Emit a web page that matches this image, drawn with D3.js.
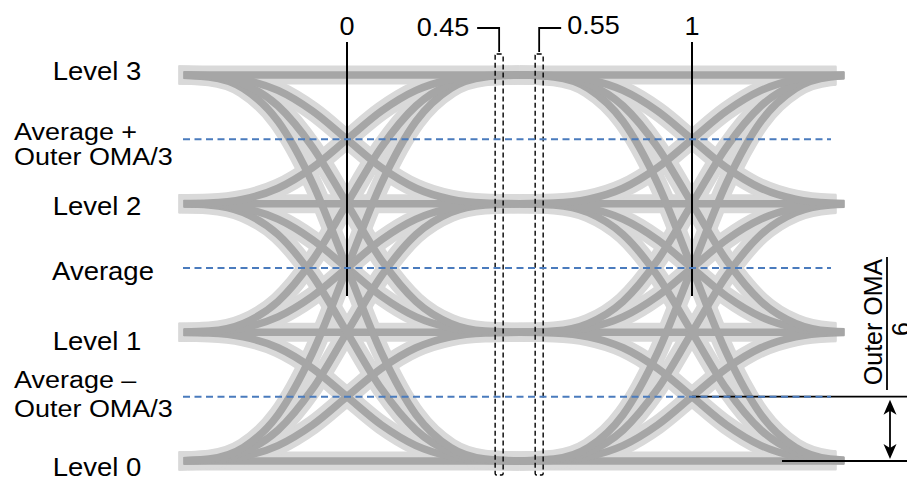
<!DOCTYPE html>
<html><head><meta charset="utf-8">
<script src="https://cdn.jsdelivr.net/npm/d3@7"></script>
<style>
html,body{margin:0;padding:0;background:#fff;overflow:hidden}
text{font-family:"Liberation Sans",Arial,sans-serif;fill:#000}
</style></head>
<body><svg id="chart" width="907" height="477"></svg>
<script>
// ---- data ----
const levelValues = [0, 1, 2, 3];
const levelLabels = ["Level 0", "Level 1", "Level 2", "Level 3"];
const thresholdValues = [0.5, 1.5, 2.5];
const thresholdLabels = [["Average \u2013", "Outer OMA/3"], ["Average"], ["Average +", "Outer OMA/3"]];
const crossingTimes = [0, 1];
const crossingLabels = ["0", "1"];
const windowTimes = [0.441, 0.557];
const windowLabels = ["0.45", "0.55"];
const timeDomain = [-0.488, 1.43];
// transition profile (fraction of the step completed vs time offset from crossing, UI)
const profileOffsets = [-0.5, -0.4, -0.3, -0.2, -0.1, 0, 0.1, 0.2, 0.3, 0.4, 0.5];
const profileFractions = [0, 0.005, 0.035, 0.12, 0.28, 0.5, 0.72, 0.88, 0.965, 0.995, 1];
const omaLabel = ["Outer OMA", "6"];

// ---- scales ----
const svg = d3.select("#chart");
const x = d3.scaleLinear().domain([0, 1]).range([347, 692]);
const y = d3.scaleLinear().domain([0, 3]).range([461, 75]);

const line = d3.line().x(d => x(d[0])).y(d => y(d[1])).curve(d3.curveMonotoneX);

const traces = [];
crossingTimes.forEach(c => {
  levelValues.forEach(a => {
    levelValues.forEach(b => {
      traces.push(profileOffsets.map((u, i) => [c + u, a + (b - a) * profileFractions[i]]));
    });
  });
});

const defs = svg.append("defs");
defs.append("clipPath").attr("id", "clipLight").append("rect")
  .attr("x", x(timeDomain[0])).attr("y", 0).attr("width", x(timeDomain[1]) - x(timeDomain[0]) - 4).attr("height", 477);
defs.append("clipPath").attr("id", "clipDark").append("rect")
  .attr("x", x(timeDomain[0]) + 5).attr("y", 0).attr("width", x(timeDomain[1]) - x(timeDomain[0]) - 5 + 4).attr("height", 477);

svg.append("g").attr("clip-path", "url(#clipLight)")
  .selectAll("path").data(traces).join("path")
  .attr("d", line).attr("fill", "none").attr("stroke", "#d9d9d9").attr("stroke-width", 19);
svg.append("g").attr("clip-path", "url(#clipDark)")
  .selectAll("path").data(traces).join("path")
  .attr("d", line).attr("fill", "none").attr("stroke", "#a6a6a6").attr("stroke-width", 7.5);

// crossing markers
svg.selectAll(".cross").data(crossingTimes).join("line")
  .attr("x1", d => x(d)).attr("x2", d => x(d))
  .attr("y1", 42).attr("y2", 296)
  .attr("stroke", "#000").attr("stroke-width", 2);
svg.selectAll(".crossLbl").data(crossingLabels).join("text")
  .attr("transform", (d, i) => `translate(${x(crossingTimes[i])},35) scale(1.08,1)`)
  .attr("text-anchor", "middle").attr("font-size", 25).text(d => d);

// sampling windows
svg.selectAll(".win").data(windowTimes).join("rect")
  .attr("x", d => x(d) - 4).attr("width", 8)
  .attr("y", 54).attr("height", 421).attr("rx", 1.5)
  .attr("fill", "none").attr("stroke", "#000").attr("stroke-width", 1.4).attr("stroke-dasharray", "5,3");
// window label brackets
svg.append("path").attr("d", `M${x(windowTimes[0]) - 22},28 H${x(windowTimes[0])} V52`)
  .attr("fill", "none").attr("stroke", "#000").attr("stroke-width", 1.8);
svg.append("path").attr("d", `M${x(windowTimes[1]) + 22},28 H${x(windowTimes[1])} V52`)
  .attr("fill", "none").attr("stroke", "#000").attr("stroke-width", 1.8);
svg.append("text").attr("transform", `translate(${x(windowTimes[0]) - 30},36) scale(1.08,1)`)
  .attr("text-anchor", "end").attr("font-size", 25).text(windowLabels[0]);
svg.append("text").attr("transform", `translate(${x(windowTimes[1]) + 28},34) scale(1.08,1)`)
  .attr("text-anchor", "start").attr("font-size", 25).text(windowLabels[1]);

// OMA/6 annotation lines
svg.append("line").attr("x1", x(1)).attr("x2", 907).attr("y1", y(thresholdValues[0])).attr("y2", y(thresholdValues[0]))
  .attr("stroke", "#000").attr("stroke-width", 1.8);
svg.append("line").attr("x1", 782).attr("x2", 907).attr("y1", y(levelValues[0])).attr("y2", y(levelValues[0]))
  .attr("stroke", "#000").attr("stroke-width", 1.8);

// threshold dashed lines
svg.selectAll(".thr").data(thresholdValues).join("line")
  .attr("x1", 183).attr("x2", 831)
  .attr("y1", d => y(d)).attr("y2", d => y(d))
  .attr("stroke", "#4a7bbd").attr("stroke-width", 2).attr("stroke-dasharray", "7,4.5");

// arrow
const ax = 890, ay1 = y(thresholdValues[0]) + 3, ay2 = y(levelValues[0]) - 2;
svg.append("line").attr("x1", ax).attr("x2", ax).attr("y1", ay1 + 10).attr("y2", ay2 - 10)
  .attr("stroke", "#000").attr("stroke-width", 1.8);
svg.append("path").attr("d", `M${ax},${ay1} L${ax - 6.5},${ay1 + 15} L${ax},${ay1 + 11} L${ax + 6.5},${ay1 + 15} Z`).attr("fill", "#000");
svg.append("path").attr("d", `M${ax},${ay2} L${ax - 6.5},${ay2 - 15} L${ax},${ay2 - 11} L${ax + 6.5},${ay2 - 15} Z`).attr("fill", "#000");

// fraction label
svg.append("line").attr("x1", 887).attr("x2", 887).attr("y1", 257).attr("y2", 390)
  .attr("stroke", "#000").attr("stroke-width", 1.8);
svg.append("text").attr("transform", "translate(882,322) rotate(-90)")
  .attr("text-anchor", "middle").attr("font-size", 25).text(omaLabel[0]);
svg.append("text").attr("transform", "translate(910,329) rotate(-90)")
  .attr("text-anchor", "middle").attr("font-size", 25).text(omaLabel[1]);

// left labels
const levelLabelBase = [476, 350, 215, 80];
levelLabels.forEach((t, i) => {
  svg.append("text").attr("transform", `translate(97,${levelLabelBase[i]}) scale(1.1,1)`)
    .attr("text-anchor", "middle").attr("font-size", 25).text(t);
});
const thrLabelBase = [[388, 417], [280], [140, 165]];
thresholdLabels.forEach((lines, i) => {
  lines.forEach((t, j) => {
    if (lines.length === 1) {
      svg.append("text").attr("transform", `translate(103,${thrLabelBase[i][j]}) scale(1.1,1)`)
        .attr("text-anchor", "middle").attr("font-size", 25).text(t);
    } else {
      svg.append("text").attr("transform", `translate(14,${thrLabelBase[i][j]}) scale(1.1,1)`)
        .attr("text-anchor", "start").attr("font-size", 24.5).text(t);
    }
  });
});
</script></body></html>
